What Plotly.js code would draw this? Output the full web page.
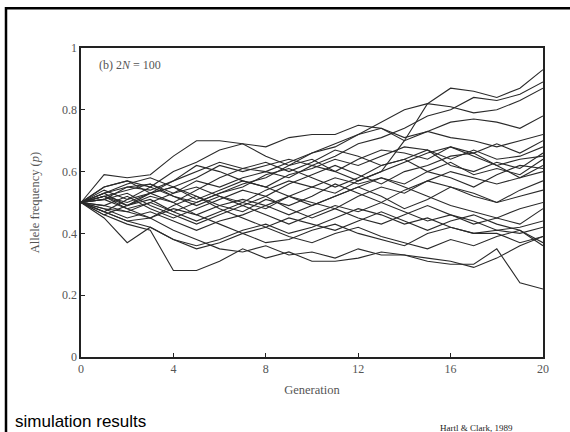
<!DOCTYPE html>
<html>
<head>
<meta charset="utf-8">
<script src="https://cdn.plot.ly/plotly-3.0.1.min.js"></script>
<style>
  html, body { margin: 0; padding: 0; background: #fff; }
  #chart { width: 570px; height: 432px; }
</style>
</head>
<body>
<div id="chart"></div>
<script>
// Generations 0..20
const generations = [0,1,2,3,4,5,6,7,8,9,10,11,12,13,14,15,16,17,18,19,20];

// Allele frequency trajectories (approximate)
const run01 = [.50,.53,.55,.54,.57,.60,.63,.61,.60,.63,.66,.68,.72,.76,.80,.82,.87,.86,.84,.87,.93];
const run02 = [.50,.52,.50,.53,.55,.58,.62,.60,.62,.64,.62,.65,.69,.71,.74,.78,.80,.84,.83,.85,.89];
const run03 = [.50,.48,.47,.45,.48,.46,.49,.51,.49,.52,.55,.53,.57,.60,.70,.82,.81,.79,.80,.83,.87];
const run04 = [.50,.59,.58,.59,.65,.70,.70,.69,.68,.71,.72,.72,.75,.74,.71,.73,.76,.77,.76,.74,.78];
const run05 = [.50,.55,.57,.55,.60,.63,.67,.69,.65,.62,.66,.69,.72,.74,.70,.73,.71,.70,.68,.70,.72];
const run06 = [.50,.52,.54,.56,.53,.57,.55,.58,.60,.58,.62,.60,.64,.67,.66,.64,.68,.66,.69,.66,.70];
const run07 = [.50,.47,.51,.53,.57,.62,.60,.57,.55,.59,.61,.64,.62,.65,.68,.67,.64,.67,.64,.65,.68];
const run08 = [.50,.53,.49,.52,.50,.54,.58,.61,.63,.60,.63,.67,.65,.62,.64,.67,.62,.60,.63,.61,.66];
const run09 = [.50,.51,.55,.56,.52,.50,.53,.55,.59,.61,.58,.55,.58,.62,.64,.60,.63,.59,.61,.59,.64];
const run10 = [.50,.49,.52,.48,.45,.48,.51,.54,.52,.56,.59,.62,.59,.56,.60,.62,.65,.66,.62,.58,.62];
const run11 = [.50,.54,.51,.55,.52,.49,.52,.50,.54,.57,.55,.58,.56,.58,.56,.60,.58,.55,.59,.62,.61];
const run12 = [.50,.46,.49,.51,.47,.44,.47,.50,.48,.52,.50,.48,.52,.55,.53,.57,.60,.58,.56,.58,.60];
const run13 = [.50,.52,.48,.45,.49,.52,.49,.47,.51,.49,.52,.56,.53,.50,.54,.57,.55,.52,.50,.54,.57];
const run14 = [.50,.48,.45,.47,.44,.41,.44,.46,.49,.46,.49,.52,.55,.52,.48,.51,.55,.53,.50,.52,.54];
const run15 = [.50,.55,.57,.53,.55,.51,.54,.57,.55,.52,.49,.52,.55,.58,.55,.52,.49,.47,.45,.48,.50];
const run16 = [.50,.51,.53,.49,.46,.43,.46,.49,.46,.43,.46,.49,.47,.50,.47,.44,.46,.43,.45,.43,.48];
const run17 = [.50,.49,.47,.50,.53,.55,.52,.49,.52,.48,.45,.48,.45,.43,.46,.49,.46,.44,.41,.42,.44];
const run18 = [.50,.47,.44,.42,.38,.36,.38,.41,.43,.40,.42,.45,.48,.46,.43,.45,.42,.40,.41,.40,.42];
const run19 = [.50,.45,.37,.42,.38,.35,.37,.40,.37,.38,.41,.43,.40,.38,.36,.40,.42,.40,.40,.37,.39];
const run20 = [.50,.52,.49,.53,.50,.46,.43,.40,.42,.39,.37,.40,.42,.39,.37,.35,.38,.36,.39,.41,.37];
const run21 = [.50,.46,.43,.41,.28,.28,.31,.35,.32,.34,.31,.31,.32,.34,.33,.31,.30,.30,.35,.24,.22];
const run22 = [.50,.47,.44,.45,.41,.38,.35,.34,.36,.33,.34,.32,.35,.33,.33,.32,.31,.29,.32,.36,.39];
const run23 = [.50,.53,.56,.58,.55,.52,.48,.45,.42,.45,.43,.41,.44,.47,.44,.41,.44,.46,.43,.41,.36];
const run24 = [.50,.51,.48,.50,.47,.50,.53,.56,.58,.62,.64,.60,.57,.60,.63,.66,.68,.65,.62,.64,.65];

const runs = [run01,run02,run03,run04,run05,run06,run07,run08,run09,run10,run11,run12,
              run13,run14,run15,run16,run17,run18,run19,run20,run21,run22,run23,run24];

const xTickVals = [0,4,8,12,16,20];
const xTickText = ['0','4','8','12','16','20'];
const yTickVals = [0,0.2,0.4,0.6,0.8,1];
const yTickText = ['0','0.2','0.4','0.6','0.8','1'];

const panelLabel = '(b) 2<i>N</i> = 100';
const xTitle = 'Generation';
const yTitle = 'Allele frequency (<i>p</i>)';
const caption = 'simulation results';
const source = 'Hartl & Clark, 1989';

const traces = runs.map(r => ({
  x: generations, y: r, type: 'scatter', mode: 'lines',
  line: {color: '#2a2a2a', width: 1.1}, hoverinfo: 'skip'
}));

// plot area in pixels: left 81, right 543, top 48, bottom 357
const L = 81, R = 543, T = 48, B = 357;
const px = v => (v - L) / (R - L);
const py = v => (B - v) / (B - T);

const serif = 'Liberation Serif, Times New Roman, serif';

const layout = {
  width: 570, height: 432,
  margin: {l: L, r: 570 - R, t: T, b: 432 - B, pad: 0},
  paper_bgcolor: '#fff', plot_bgcolor: '#fff',
  showlegend: false, hovermode: false,
  xaxis: {
    range: [0, 20], tickvals: xTickVals, ticktext: xTickText,
    ticks: 'inside', ticklen: 4, tickwidth: 1, tickcolor: '#222',
    showline: true, mirror: true, linecolor: '#222', linewidth: 1.6,
    showgrid: false, zeroline: false,
    tickfont: {family: serif, size: 12, color: '#555'},
    title: {text: xTitle, font: {family: serif, size: 12.5, color: '#555'}, standoff: 10},
    automargin: false, fixedrange: true
  },
  yaxis: {
    range: [0, 1], tickvals: yTickVals, ticktext: yTickText,
    ticks: 'inside', ticklen: 4, tickwidth: 1, tickcolor: '#222',
    showline: true, mirror: true, linecolor: '#222', linewidth: 1.6,
    showgrid: false, zeroline: false,
    tickfont: {family: serif, size: 12, color: '#555'},
    title: {text: yTitle, font: {family: serif, size: 12.5, color: '#555'}, standoff: 19},
    automargin: false, fixedrange: true
  },
  annotations: [
    {text: panelLabel, xref: 'paper', yref: 'paper', x: px(97), y: py(65),
     xanchor: 'left', yanchor: 'middle', showarrow: false,
     font: {family: serif, size: 12, color: '#555'}},
    {text: caption, xref: 'paper', yref: 'paper', x: px(13), y: py(421),
     xanchor: 'left', yanchor: 'middle', showarrow: false,
     font: {family: 'Liberation Sans, Arial, sans-serif', size: 17, color: '#000'}},
    {text: source, xref: 'paper', yref: 'paper', x: px(438), y: py(428),
     xanchor: 'left', yanchor: 'middle', showarrow: false,
     font: {family: serif, size: 9, color: '#222'}}
  ],
  shapes: [
    {type: 'line', xref: 'paper', yref: 'paper', x0: px(6), x1: px(6), y0: py(7), y1: py(440),
     line: {color: '#000', width: 2.5}},
    {type: 'line', xref: 'paper', yref: 'paper', x0: px(5), x1: px(575), y0: py(8.3), y1: py(8.3),
     line: {color: '#000', width: 2.5}}
  ]
};

Plotly.newPlot('chart', traces, layout, {displayModeBar: false, staticPlot: true});
</script>
</body>
</html>
